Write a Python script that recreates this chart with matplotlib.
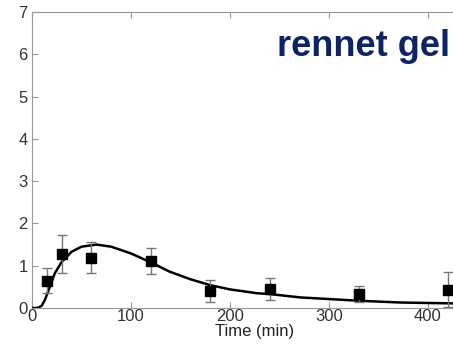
import numpy as np
import matplotlib.pyplot as plt

plt.rcParams['font.family'] = ['Liberation Sans', 'DejaVu Sans']

# measured points (mean and error bar ends)
t_pts = [15, 30, 60, 120, 180, 240, 330, 420]
y_pts = [0.64, 1.28, 1.19, 1.11, 0.41, 0.45, 0.33, 0.43]
y_hi = [0.94, 1.72, 1.56, 1.43, 0.66, 0.72, 0.53, 0.85]
y_lo = [0.35, 0.83, 0.82, 0.80, 0.15, 0.19, 0.14, 0.03]

# model curve
t_fit = [0, 4, 7, 10, 13, 18, 23, 30, 40, 50, 65, 80, 100, 119, 139,
         160, 180, 200, 227, 240, 271, 301, 331, 372, 422, 460]
y_fit = [0.0, 0.0, 0.01, 0.06, 0.19, 0.50, 0.82, 1.09, 1.33, 1.45, 1.50,
         1.45, 1.29, 1.09, 0.86, 0.68, 0.54, 0.44, 0.35, 0.33, 0.25, 0.21,
         0.17, 0.13, 0.11, 0.10]

fig = plt.figure(figsize=(4.53, 3.45), dpi=100)
ax = fig.add_axes([32 / 453, 37 / 345, 445.5 / 453, 296 / 345])

ax.plot(t_fit, y_fit, color='black', lw=1.8, zorder=3)

y = np.array(y_pts)
yerr = [y - np.array(y_lo), np.array(y_hi) - y]
ax.errorbar(t_pts, y_pts, yerr=yerr, fmt='s', color='black', ms=7,
            ecolor='#777777', elinewidth=1.0, capsize=3.5, capthick=1.0,
            zorder=4)

ax.set_xlim(0, 450)
ax.set_ylim(0, 7)
ax.set_xticks([0, 100, 200, 300, 400])
ax.set_yticks(range(8))
ax.tick_params(direction='in', length=4, width=0.8, colors='#999999',
               labelcolor='#333333', labelsize=12, top=True, right=True)
ax.tick_params(axis='y', pad=3)
ax.tick_params(axis='x', pad=1)
for s in ax.spines.values():
    s.set_color('#999999')
    s.set_linewidth(0.8)
ax.set_xlabel('Time (min)', fontsize=12, color='#222222', labelpad=0)

fig.text(277 / 453, 1 - 47 / 345, 'rennet gel', fontsize=26, fontweight='bold',
         color='#0b2466', ha='left', va='center')

fig.savefig('out.png', dpi=100)
